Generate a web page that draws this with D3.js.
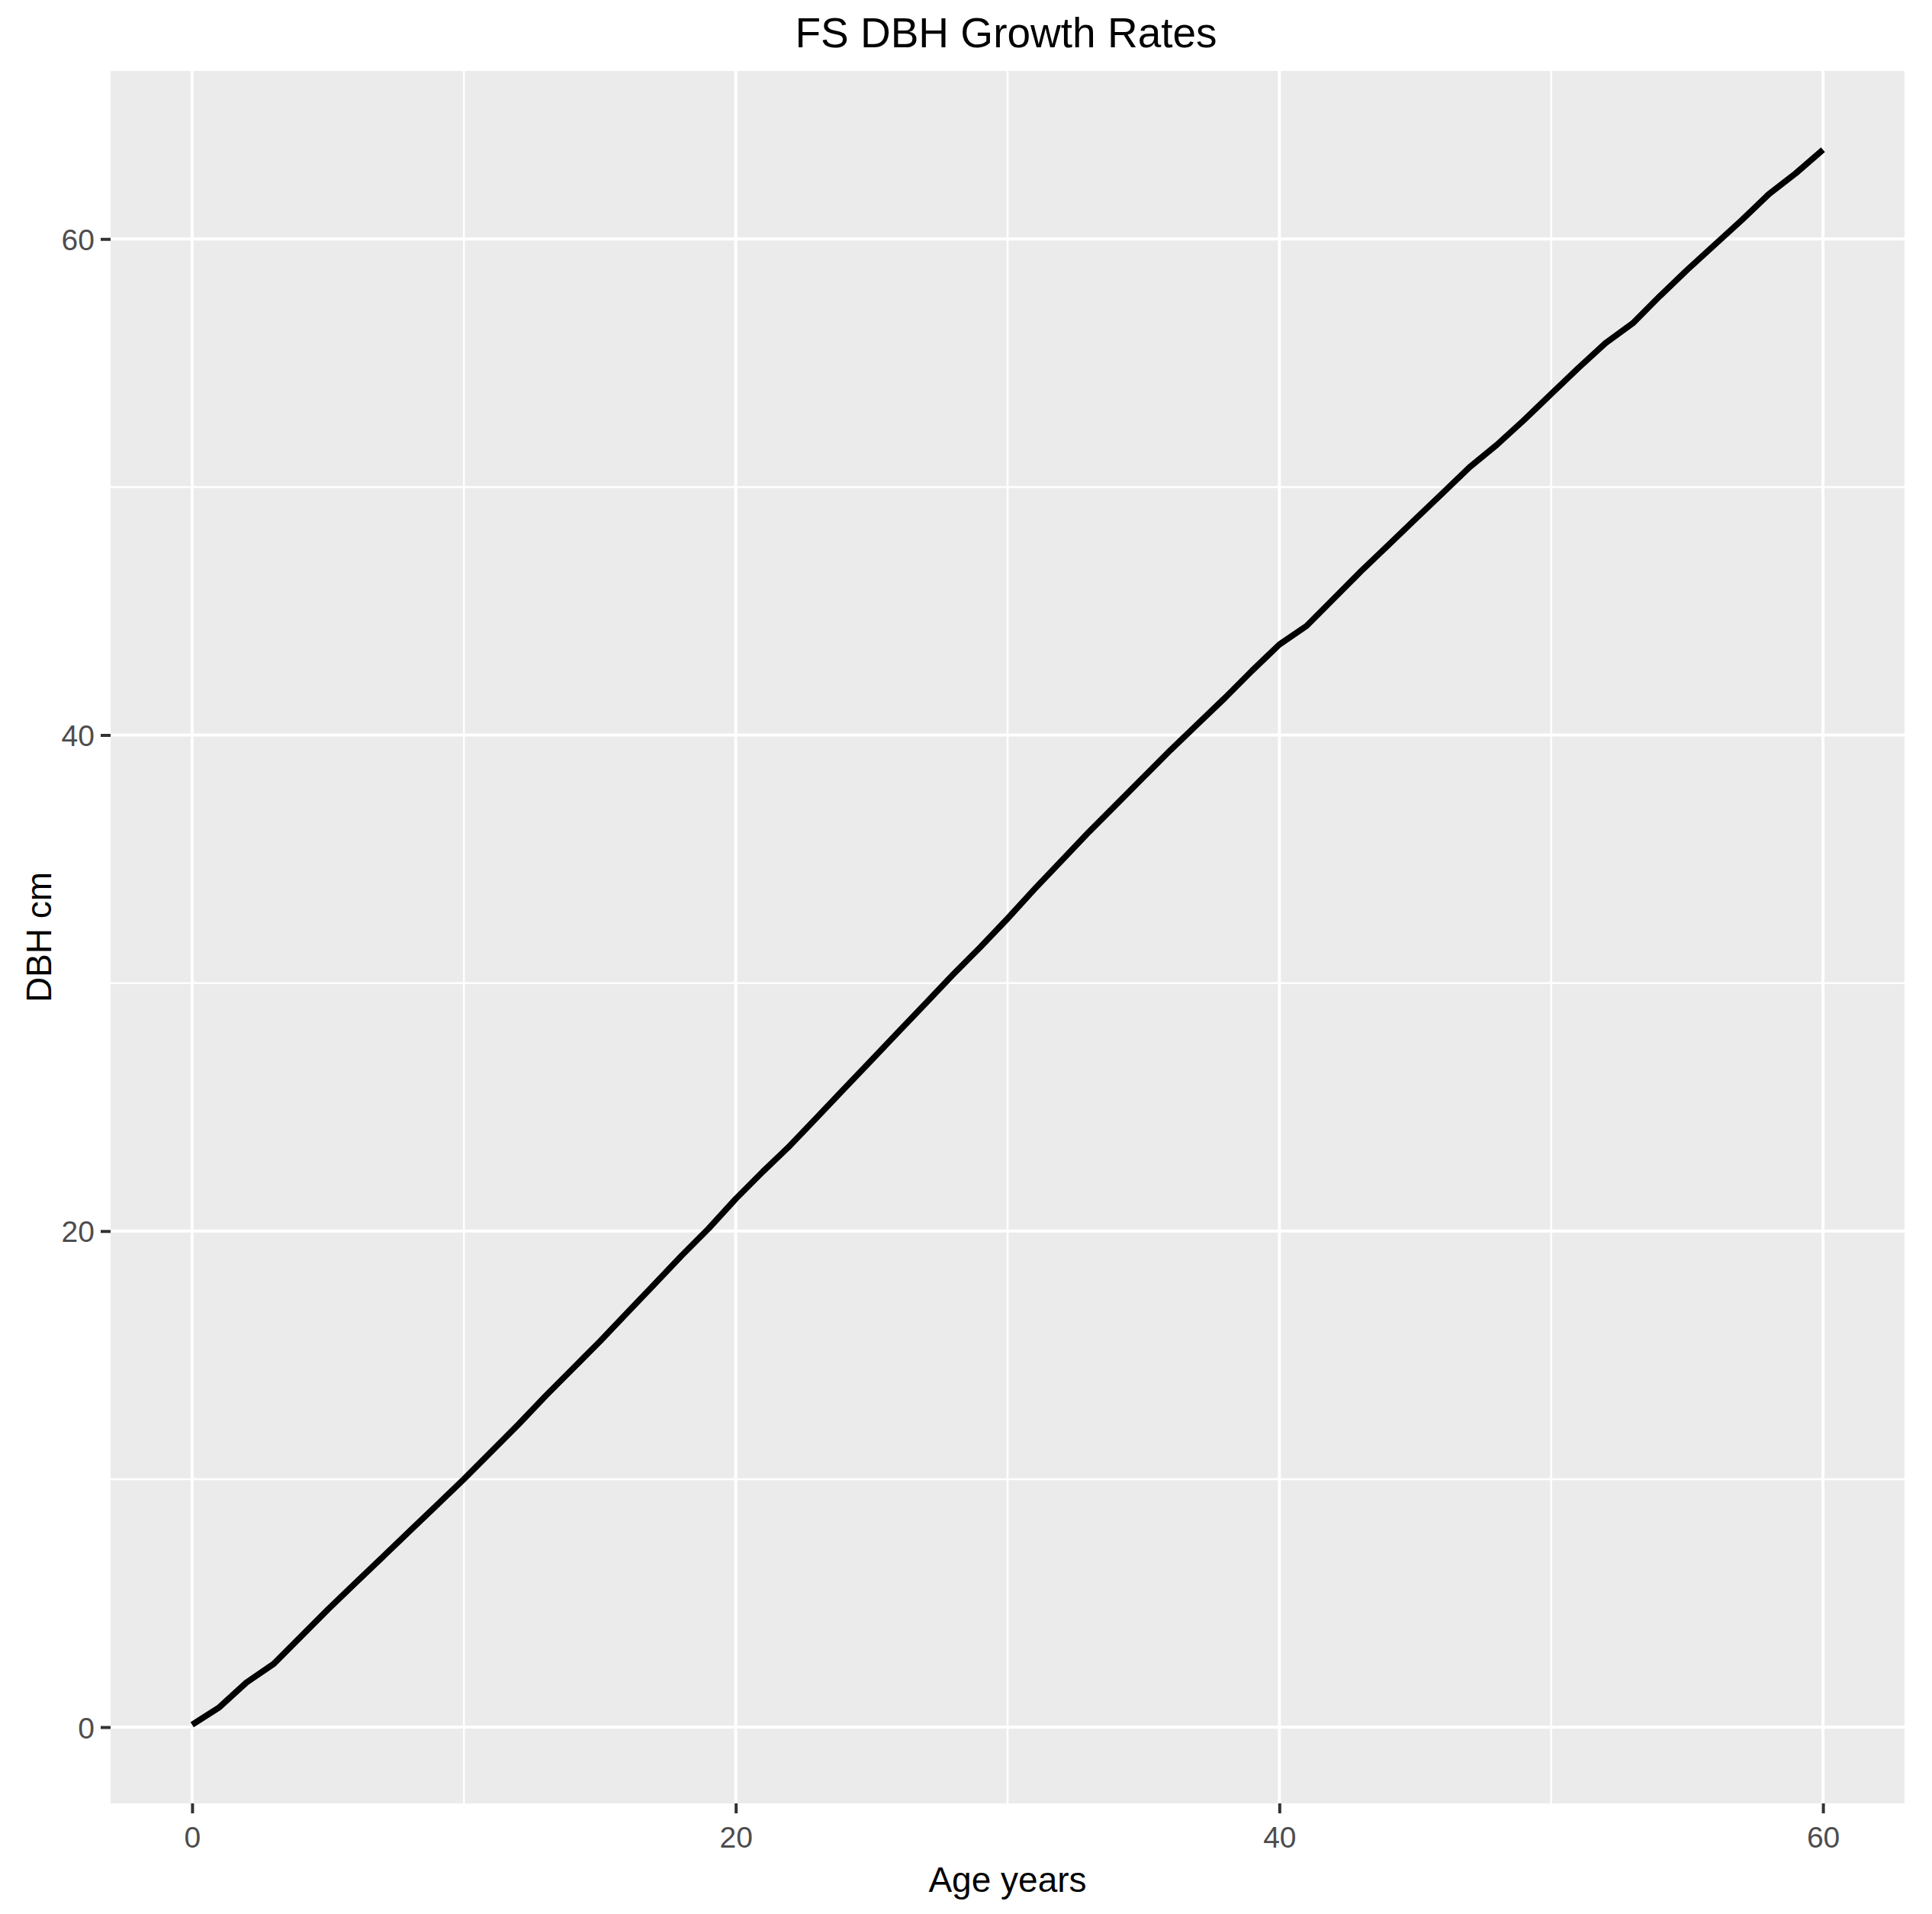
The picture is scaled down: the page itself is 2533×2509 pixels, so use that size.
<!DOCTYPE html>
<html>
<head>
<meta charset="utf-8">
<script src="https://cdn.jsdelivr.net/npm/d3@7/dist/d3.min.js"></script>
<style>
  html, body { margin: 0; padding: 0; background: #ffffff; }
  svg { display: block; }
  text { font-family: "Liberation Sans", Arial, sans-serif; }
</style>
</head>
<body>
<script>
// ---- data ----
const ageYears = [0,1,2,3,4,5,6,7,8,9,10,11,12,13,14,15,16,17,18,19,20,
  21,22,23,24,25,26,27,28,29,30,31,32,33,34,35,36,37,38,39,40,
  41,42,43,44,45,46,47,48,49,50,51,52,53,54,55,56,57,58,59,60];
const dbhCm = [0.1,0.8,1.8,2.55,3.65,4.75,5.8,6.85,7.9,8.95,10.0,
  11.1,12.2,13.35,14.45,15.55,16.7,17.85,19.0,20.1,21.3,
  22.4,23.45,24.6,25.75,26.9,28.05,29.2,30.35,31.45,32.6,
  33.8,34.95,36.1,37.2,38.3,39.4,40.45,41.5,42.6,43.65,
  44.4,45.5,46.6,47.65,48.7,49.75,50.8,51.7,52.7,53.75,
  54.8,55.8,56.6,57.7,58.75,59.75,60.75,61.8,62.65,63.6];
const xTicks = [0, 20, 40, 60];
const xMinor = [10, 30, 50];
const yTicks = [0, 20, 40, 60];
const yMinor = [10, 30, 50];
const titleText = "FS DBH Growth Rates";
const xTitle = "Age years";
const yTitle = "DBH cm";

// ---- layout ----
const W = 2533, H = 2509;
const P = { left: 145, right: 2497, top: 93, bottom: 2364 };

const svg = d3.select("body").append("svg")
  .attr("width", W).attr("height", H)
  .attr("viewBox", `0 0 ${W} ${H}`);

svg.append("rect").attr("width", W).attr("height", H).attr("fill", "#ffffff");

function expand(ext) {
  const r = ext[1] - ext[0];
  return [ext[0] - 0.05 * r, ext[1] + 0.05 * r];
}

const x = d3.scaleLinear().domain(expand(d3.extent(ageYears))).range([P.left, P.right]);
const y = d3.scaleLinear().domain(expand(d3.extent(dbhCm))).range([P.bottom, P.top]);

// panel
svg.append("rect")
  .attr("x", P.left).attr("y", P.top)
  .attr("width", P.right - P.left).attr("height", P.bottom - P.top)
  .attr("fill", "#EBEBEB");

const grid = svg.append("g");
// minor grid
grid.selectAll("line.xmin").data(xMinor).join("line")
  .attr("x1", d => x(d)).attr("x2", d => x(d))
  .attr("y1", P.top).attr("y2", P.bottom)
  .attr("stroke", "#ffffff").attr("stroke-width", 2.5);
grid.selectAll("line.ymin").data(yMinor).join("line")
  .attr("y1", d => y(d)).attr("y2", d => y(d))
  .attr("x1", P.left).attr("x2", P.right)
  .attr("stroke", "#ffffff").attr("stroke-width", 2.5);
// major grid
grid.selectAll("line.xmaj").data(xTicks).join("line")
  .attr("x1", d => x(d)).attr("x2", d => x(d))
  .attr("y1", P.top).attr("y2", P.bottom)
  .attr("stroke", "#ffffff").attr("stroke-width", 4);
grid.selectAll("line.ymaj").data(yTicks).join("line")
  .attr("y1", d => y(d)).attr("y2", d => y(d))
  .attr("x1", P.left).attr("x2", P.right)
  .attr("stroke", "#ffffff").attr("stroke-width", 4);

// line
const line = d3.line().x((d, i) => x(ageYears[i])).y(d => y(d));
svg.append("path")
  .datum(dbhCm)
  .attr("d", line)
  .attr("fill", "none")
  .attr("stroke", "#000000")
  .attr("stroke-width", 8)
  .attr("stroke-linejoin", "round")
  .attr("stroke-linecap", "butt");

// axes
const xAxis = svg.append("g")
  .attr("transform", `translate(0,${P.bottom})`)
  .call(d3.axisBottom(x).tickValues(xTicks).tickFormat(d3.format("d")).tickSize(13).tickPadding(17));
const yAxis = svg.append("g")
  .attr("transform", `translate(${P.left},0)`)
  .call(d3.axisLeft(y).tickValues(yTicks).tickFormat(d3.format("d")).tickSize(13).tickPadding(8));

[xAxis, yAxis].forEach(g => {
  g.select(".domain").remove();
  g.selectAll(".tick line").attr("stroke", "#333333").attr("stroke-width", 4);
  g.selectAll(".tick text")
    .attr("fill", "#4D4D4D")
    .style("font-family", '"Liberation Sans", Arial, sans-serif')
    .style("font-size", "39px");
});
xAxis.selectAll(".tick text").attr("dy", "0.71em");
yAxis.selectAll(".tick text").attr("dy", "0.36em");

// titles
const cx = (P.left + P.right) / 2;
const cy = (P.top + P.bottom) / 2;
svg.append("text")
  .attr("x", cx - 2).attr("y", 62)
  .attr("text-anchor", "middle")
  .attr("fill", "#000000")
  .style("font-size", "55px")
  .text(titleText);

svg.append("text")
  .attr("x", cx).attr("y", 2480)
  .attr("text-anchor", "middle")
  .attr("fill", "#000000")
  .style("font-size", "46px")
  .text(xTitle);

svg.append("text")
  .attr("transform", `translate(67,${cy}) rotate(-90)`)
  .attr("text-anchor", "middle")
  .attr("fill", "#000000")
  .style("font-size", "46px")
  .text(yTitle);
</script>
</body>
</html>
